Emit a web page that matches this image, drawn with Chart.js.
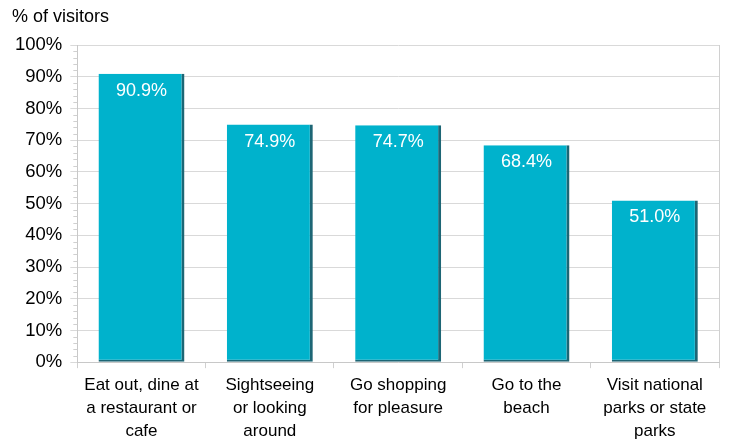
<!DOCTYPE html>
<html>
<head>
<meta charset="utf-8">
<script src="https://cdn.jsdelivr.net/npm/chart.js@4/dist/chart.umd.min.js"></script>
<style>
  html, body { margin: 0; padding: 0; background: #fff; }
  #wrap { position: relative; width: 732px; height: 441px; }
</style>
</head>
<body>
<div id="wrap"><canvas id="activityChart"></canvas></div>
<script>
const categories = [
    ['Eat out, dine at', 'a restaurant or', 'cafe'],
    ['Sightseeing', 'or looking', 'around'],
    ['Go shopping', 'for pleasure'],
    ['Go to the', 'beach'],
    ['Visit national', 'parks or state', 'parks']
];
const visitorShare = [90.9, 74.9, 74.7, 68.4, 51.0];
const yTicks = [0, 10, 20, 30, 40, 50, 60, 70, 80, 90, 100];

const FONT = '"Liberation Sans", Arial, sans-serif';

// minor ticks on the y axis, right border, and labels inside bars
const extras = {
    id: 'extras',
    afterDraw(chart) {
        const ctx = chart.ctx;
        const area = chart.chartArea;
        const y = chart.scales.y;
        ctx.save();
        ctx.strokeStyle = '#d0d0d0';
        ctx.lineWidth = 1;
        for (let v = 0; v < 100; v += 2) {
            if (v % 10 === 0) continue;
            const py = Math.round(y.getPixelForValue(v)) + 0.5;
            ctx.beginPath();
            ctx.moveTo(area.left - 4, py);
            ctx.lineTo(area.left, py);
            ctx.stroke();
        }
        ctx.beginPath();
        ctx.moveTo(Math.round(area.right) + 0.5, area.top);
        ctx.lineTo(Math.round(area.right) + 0.5, area.bottom);
        ctx.stroke();

        const meta = chart.getDatasetMeta(0);
        ctx.fillStyle = '#ffffff';
        ctx.font = '18px ' + FONT;
        ctx.textAlign = 'center';
        ctx.textBaseline = 'top';
        meta.data.forEach((bar, i) => {
            ctx.fillText(visitorShare[i].toFixed(1) + '%', bar.x, bar.y + 8);
        });

        ctx.fillStyle = '#000';
        ctx.textAlign = 'left';
        ctx.font = '18px ' + FONT;
        ctx.fillText('% of visitors', 12, 8);
        ctx.restore();
    }
};

document.addEventListener('DOMContentLoaded', function () {
    const ctx = document.getElementById('activityChart').getContext('2d');
    new Chart(ctx, {
        type: 'bar',
        data: {
            labels: categories,
            datasets: [{
                data: visitorShare,
                backgroundColor: '#00b2cc',
                borderColor: '#1d6675',
                borderWidth: { top: 0, left: 0, right: 3, bottom: 2 },
                borderSkipped: false,
                categoryPercentage: 0.67,
                barPercentage: 1
            }]
        },
        options: {
            responsive: true,
            maintainAspectRatio: false,
            animation: false,
            layout: { padding: { top: 45, right: 13, left: 7, bottom: -8 } },
            plugins: {
                legend: { display: false },
                tooltip: { enabled: false }
            },
            scales: {
                x: {
                    grid: {
                        offset: true,
                        drawOnChartArea: false,
                        color: '#d0d0d0',
                        tickLength: 6
                    },
                    border: { color: '#c8c8c8' },
                    ticks: {
                        color: '#000',
                        font: { size: 17, family: FONT, lineHeight: 1.35 },
                        maxRotation: 0,
                        padding: 6
                    }
                },
                y: {
                    min: 0,
                    max: 100,
                    afterBuildTicks: (axis) => { axis.ticks = yTicks.map(v => ({ value: v })); },
                    grid: { color: '#d9d9d9', tickLength: 7 },
                    border: { color: '#c8c8c8' },
                    ticks: {
                        color: '#000',
                        font: { size: 18.5, family: FONT },
                        padding: 8,
                        callback: (v) => v + '%'
                    }
                }
            }
        },
        plugins: [extras]
    });
});
</script>
</body>
</html>
